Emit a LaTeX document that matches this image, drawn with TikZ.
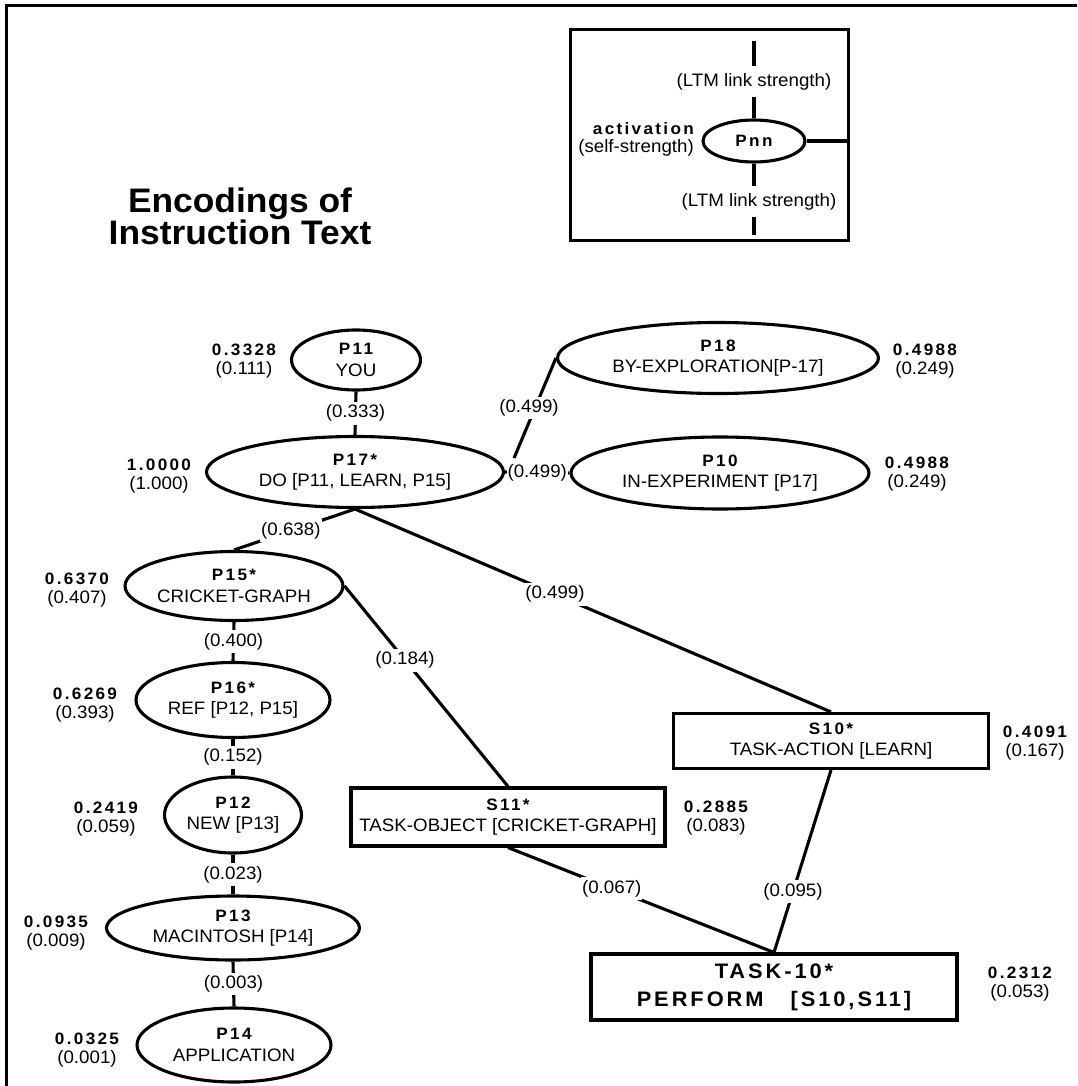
\documentclass[tikz,border=0pt]{standalone}
\usepackage{fontspec}
\setmainfont[FakeStretch=1.04]{Liberation Sans}
\newfontfamily\bsp[LetterSpace=14,FakeStretch=1.04]{Liberation Sans}
\usetikzlibrary{shapes.geometric,calc}
\newcommand\hd[1]{{\bsp\bfseries\fontsize{16.5}{21}\selectfont #1}}
\newcommand\hdbig[1]{{\bsp\bfseries\fontsize{21}{28}\selectfont #1}}
\tikzset{
  ln/.style={line width=3.1},
  pe/.style={ellipse, draw, line width=3.1, inner sep=0, align=center, font=\fontsize{18}{21.5}\selectfont},
  pb/.style={rectangle, draw, line width=3.1, inner sep=0, align=center, font=\fontsize{18}{21.5}\selectfont},
  lbl/.style={fill=white, inner xsep=1, inner ysep=3, font=\fontsize{18}{21}\selectfont},
  lbltwo/.style={fill=white, inner xsep=1, inner ysep=7.5, font=\fontsize{18}{21}\selectfont},
  val/.style={align=center, inner sep=0, font=\fontsize{18}{19}\selectfont},
}
\begin{document}
\begin{tikzpicture}[x=1pt,y=-1pt]
\useasboundingbox (0,0) rectangle (1077,1086);
\draw[line width=3.2] (6.2,1086) -- (6.2,5.5) -- (1077,5.5);

% title
\node[align=center, inner sep=0, font=\fontsize{34}{32}\selectfont\bfseries] (title) at (240,216) {Encodings of\\Instruction Text};

% legend
\node[draw, line width=3, minimum width=278, minimum height=210, inner sep=0] (leg) at (709,135) {};
\node[pe, minimum width=102, minimum height=42] (Pnn) at (754,141) {\hd{Pnn}};
\draw[ln] (Pnn.north) -- node[lbltwo, pos=0.48]{(LTM link strength)} ++(0,-77);
\draw[ln] (Pnn.south) -- node[lbltwo, pos=0.535, xshift=5]{(LTM link strength)} ++(0,71);
\draw[ln] (Pnn.east) -- (Pnn.east -| leg.east);
\node[anchor=east, align=right, inner sep=0, font=\fontsize{18}{18}\selectfont] (act) at (694,139) {\hd{activation}\\(self-strength)};

% proposition nodes
\node[pe, minimum width=129, minimum height=60] (P11) at (356,360) {\hd{P11}\\YOU};
\node[pe, minimum width=297, minimum height=71] (P17) at (355,472) {\hd{P17*}\\DO [P11, LEARN, P15]};
\node[pe, minimum width=321, minimum height=71] (P18) at (718,358) {\hd{P18}\\BY-EXPLORATION[P-17]};
\node[pe, minimum width=298, minimum height=72] (P10) at (720,473) {\hd{P10}\\IN-EXPERIMENT [P17]};
\node[pe, minimum width=218, minimum height=69] (P15) at (234,586) {\hd{P15*}\\CRICKET-GRAPH};
\node[pe, minimum width=194, minimum height=75] (P16) at (233,700) {\hd{P16*}\\REF [P12, P15]};
\node[pe, minimum width=137, minimum height=76] (P12) at (233,815) {\hd{P12}\\NEW [P13]};
\node[pe, minimum width=253, minimum height=64] (P13) at (233,928) {\hd{P13}\\MACINTOSH [P14]};
\node[pe, minimum width=194, minimum height=74] (P14) at (234,1045) {\hd{P14}\\APPLICATION};
\node[pb, minimum width=315, minimum height=55] (S10) at (831,741) {\hd{S10*}\\TASK-ACTION [LEARN]};
\node[pb, minimum width=314, minimum height=58] (S11) at (508,817) {\hd{S11*}\\TASK-OBJECT [CRICKET-GRAPH]};
\node[pb, minimum width=366, minimum height=66, font=\fontsize{21}{28}\selectfont] (T10) at (774,987) {\hdbig{TASK-10*}\\\hdbig{PERFORM\ \ \ [S10,S11]}};

% activation values
\node[val] (v11) at (244,361) {\hd{0.3328}\\(0.111)};
\node[val] (v17) at (159,476) {\hd{1.0000}\\(1.000)};
\node[val] (v18) at (925,361) {\hd{0.4988}\\(0.249)};
\node[val] (v10) at (917,474) {\hd{0.4988}\\(0.249)};
\node[val] (v15) at (77,590) {\hd{0.6370}\\(0.407)};
\node[val] (v16) at (85,705) {\hd{0.6269}\\(0.393)};
\node[val] (v12) at (106,819) {\hd{0.2419}\\(0.059)};
\node[val] (v13) at (56,933) {\hd{0.0935}\\(0.009)};
\node[val] (v14) at (87,1050) {\hd{0.0325}\\(0.001)};
\node[val] (vS10) at (1035,743) {\hd{0.4091}\\(0.167)};
\node[val] (vS11) at (716,818) {\hd{0.2885}\\(0.083)};
\node[val] (vT10) at (1020,984) {\hd{0.2312}\\(0.053)};

% links
\draw[ln] (P11.south) -- node[lbl]{(0.333)} (P17.north);
\draw[ln] ($(P17.east)+(9,-14)$) -- node[lbl, xshift=-6]{(0.499)} (P18.west);
\draw[ln] (P17.east) -- node[lbl]{(0.499)} (P10.west);
\draw[ln] (P17.south) -- node[lbl, pos=0.53]{(0.638)} (P15.north);
\draw[ln] (P17.south) -- node[lbl, pos=0.42]{(0.499)} (S10.north);
\draw[ln] (P15.south) -- node[lbl]{(0.400)} (P16.north);
\draw[ln] (P16.south) -- node[lbl]{(0.152)} (P12.north);
\draw[ln] (P12.south) -- node[lbl]{(0.023)} (P13.north);
\draw[ln] (P13.south) -- node[lbl]{(0.003)} (P14.north);
\draw[ln] (P15.east) -- node[lbl, pos=0.37]{(0.184)} (S11.north);
\draw[ln] (S11.south) -- node[lbl, pos=0.39]{(0.067)} (T10.north);
\draw[ln] (S10.south) -- node[lbl, pos=0.667]{(0.095)} (T10.north);
\end{tikzpicture}
\end{document}
